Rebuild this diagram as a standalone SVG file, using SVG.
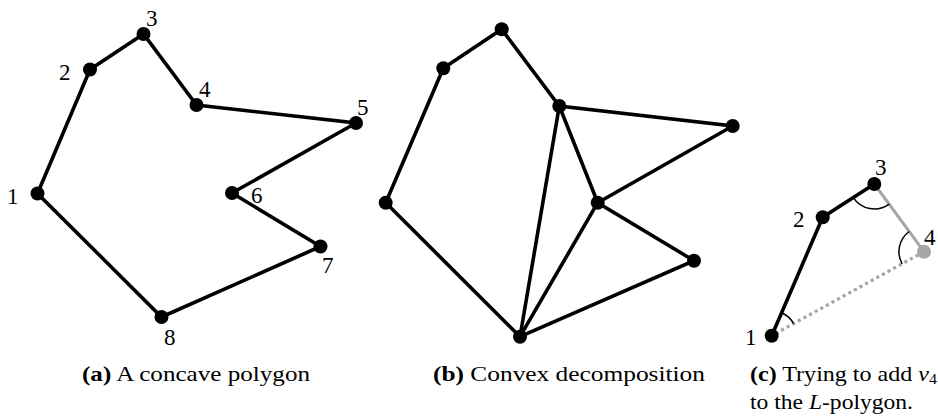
<svg xmlns="http://www.w3.org/2000/svg" width="938" height="418" viewBox="0 0 938 418">
<style>
.e{stroke:#000;stroke-width:3.6;fill:none;stroke-linecap:round}
.v{fill:#000}
.lbl{font-family:"Liberation Serif","Times New Roman",serif;font-size:23px;fill:#000}
.cap{font-family:"Liberation Serif","Times New Roman",serif;font-size:21px;fill:#000}
.arc{stroke:#000;stroke-width:1.5;fill:none}
.g{stroke:#a6a6a6;stroke-width:3;fill:none}
.gd{stroke:#a6a6a6;stroke-width:3.2;fill:none;stroke-dasharray:3.2 3.2}
</style>
<rect width="938" height="418" fill="#fff"/>
<g id="connectors">
<polygon class="e" points="37.5,193.5 90,69.5 143.5,34 196.5,105 356,123 232,193 320.5,246.5 161.5,317"/>
<polygon class="e" points="385.7,202.7 443.3,68.3 501.7,29.3 559.3,106 732.7,126 597.7,202.7 694,260.7 520,336.7"/>
<line class="e" x1="559.3" y1="106" x2="520" y2="336.7"/>
<line class="e" x1="559.3" y1="106" x2="597.7" y2="202.7"/>
<line class="e" x1="597.7" y1="202.7" x2="520" y2="336.7"/>
<polyline class="e" points="771.7,335.7 822.7,217.3 874.3,184"/>
<line class="g" x1="874.3" y1="184" x2="924" y2="251.7"/>
<line class="gd" x1="924" y1="251.7" x2="771.7" y2="335.7"/>
<path class="arc" d="M889.1,204.1 A25,25 0 0 1 853.3,197.6"/>
<path class="arc" d="M902.1,263.8 A25,25 0 0 1 909.2,231.5"/>
<path class="arc" d="M781.6,312.7 A25,25 0 0 1 793.6,323.6"/>
</g>
<g id="a-nodes">
<g id="a1"><circle class="v" cx="37.5" cy="193.5" r="7"/><text class="lbl" x="7" y="204">1</text></g>
<g id="a2"><circle class="v" cx="90" cy="69.5" r="7"/><text class="lbl" x="59" y="80">2</text></g>
<g id="a3"><circle class="v" cx="143.5" cy="34" r="7"/><text class="lbl" x="146" y="26">3</text></g>
<g id="a4"><circle class="v" cx="196.5" cy="105" r="7"/><text class="lbl" x="199" y="97">4</text></g>
<g id="a5"><circle class="v" cx="356" cy="123" r="7"/><text class="lbl" x="357" y="115">5</text></g>
<g id="a6"><circle class="v" cx="232" cy="193" r="7"/><text class="lbl" x="251" y="203">6</text></g>
<g id="a7"><circle class="v" cx="320.5" cy="246.5" r="7"/><text class="lbl" x="322" y="273">7</text></g>
<g id="a8"><circle class="v" cx="161.5" cy="317" r="7"/><text class="lbl" x="164" y="345">8</text></g>
</g>
<g id="b-nodes">
<circle id="b1" class="v" cx="385.7" cy="202.7" r="7"/>
<circle id="b2" class="v" cx="443.3" cy="68.3" r="7"/>
<circle id="b3" class="v" cx="501.7" cy="29.3" r="7"/>
<circle id="b4" class="v" cx="559.3" cy="106" r="7"/>
<circle id="b5" class="v" cx="732.7" cy="126" r="7"/>
<circle id="b6" class="v" cx="597.7" cy="202.7" r="7"/>
<circle id="b7" class="v" cx="694" cy="260.7" r="7"/>
<circle id="b8" class="v" cx="520" cy="336.7" r="7"/>
</g>
<g id="c-nodes">
<g id="c1"><circle class="v" cx="771.7" cy="335.7" r="7"/><text class="lbl" x="745" y="345">1</text></g>
<g id="c2"><circle class="v" cx="822.7" cy="217.3" r="7"/><text class="lbl" x="793" y="227">2</text></g>
<g id="c3"><circle class="v" cx="874.3" cy="184" r="7"/><text class="lbl" x="875" y="175">3</text></g>
<g id="c4"><circle cx="924" cy="251.7" r="7" fill="#a6a6a6"/><text class="lbl" x="924" y="245">4</text></g>
</g>
<g id="captions">
<text class="cap" x="82" y="381" textLength="228" lengthAdjust="spacingAndGlyphs"><tspan font-weight="bold">(a)</tspan> A concave polygon</text>
<text class="cap" x="433" y="381" textLength="272" lengthAdjust="spacingAndGlyphs"><tspan font-weight="bold">(b)</tspan> Convex decomposition</text>
<text class="cap" x="750" y="381" textLength="187" lengthAdjust="spacingAndGlyphs"><tspan font-weight="bold">(c)</tspan> Trying to add <tspan font-style="italic">v</tspan><tspan font-size="14" dy="3">4</tspan></text>
<text class="cap" x="750" y="409" textLength="163" lengthAdjust="spacingAndGlyphs">to the <tspan font-style="italic">L</tspan>-polygon.</text>
</g>
</svg>
